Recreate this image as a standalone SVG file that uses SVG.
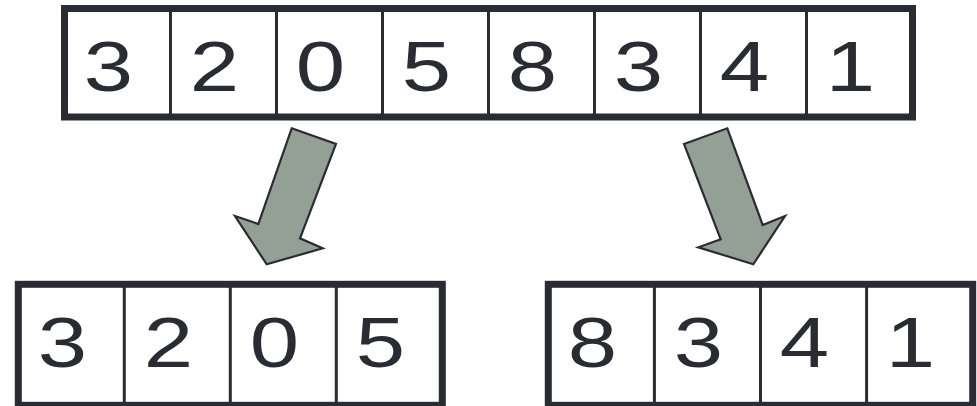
<svg xmlns="http://www.w3.org/2000/svg" width="977" height="406" viewBox="0 0 977 406">
<style>
.frame{fill:#ffffff;stroke:#2b2b33;stroke-width:7}
.div{stroke:#2b2b33;stroke-width:3}
.d{font-family:"Liberation Sans",Arial,sans-serif;font-size:71px;fill:#2b2b33;text-anchor:middle}
.arrow{fill:#93a095;stroke:#2b2b33;stroke-width:2.2;stroke-linejoin:miter}
</style>
<rect width="977" height="406" fill="#ffffff"/>
<g id="top-array">
<rect class="frame" x="64.5" y="8.5" width="848" height="108.5"/>
<g class="div">
<line x1="170.5" y1="8.5" x2="170.5" y2="117"/>
<line x1="276.5" y1="8.5" x2="276.5" y2="117"/>
<line x1="382.5" y1="8.5" x2="382.5" y2="117"/>
<line x1="488.5" y1="8.5" x2="488.5" y2="117"/>
<line x1="594.5" y1="8.5" x2="594.5" y2="117"/>
<line x1="700.5" y1="8.5" x2="700.5" y2="117"/>
<line x1="806.5" y1="8.5" x2="806.5" y2="117"/>
</g>
<text class="d" transform="translate(108.5,91) scale(1.25,1)">3</text>
<text class="d" transform="translate(214.5,91) scale(1.25,1)">2</text>
<text class="d" transform="translate(320.5,91) scale(1.25,1)">0</text>
<text class="d" transform="translate(426.5,91) scale(1.25,1)">5</text>
<text class="d" transform="translate(532.5,91) scale(1.25,1)">8</text>
<text class="d" transform="translate(638.5,91) scale(1.25,1)">3</text>
<text class="d" transform="translate(744.5,91) scale(1.25,1)">4</text>
<text class="d" transform="translate(850.5,91) scale(1.25,1)">1</text>
</g>
<g id="left-array">
<rect class="frame" x="18.3" y="284.3" width="424" height="121"/>
<g class="div">
<line x1="124.3" y1="284.3" x2="124.3" y2="405.3"/>
<line x1="230.3" y1="284.3" x2="230.3" y2="405.3"/>
<line x1="336.3" y1="284.3" x2="336.3" y2="405.3"/>
</g>
<text class="d" transform="translate(62.5,367) scale(1.25,1)">3</text>
<text class="d" transform="translate(168.5,367) scale(1.25,1)">2</text>
<text class="d" transform="translate(274.5,367) scale(1.25,1)">0</text>
<text class="d" transform="translate(380.5,367) scale(1.25,1)">5</text>
</g>
<g id="right-array">
<rect class="frame" x="548.3" y="284.3" width="424.4" height="121"/>
<g class="div">
<line x1="654.4" y1="284.3" x2="654.4" y2="405.3"/>
<line x1="760.5" y1="284.3" x2="760.5" y2="405.3"/>
<line x1="866.6" y1="284.3" x2="866.6" y2="405.3"/>
</g>
<text class="d" transform="translate(592.5,367) scale(1.25,1)">8</text>
<text class="d" transform="translate(698.5,367) scale(1.25,1)">3</text>
<text class="d" transform="translate(804.5,367) scale(1.25,1)">4</text>
<text class="d" transform="translate(910.5,367) scale(1.25,1)">1</text>
</g>
<g id="connectors">
<polygon class="arrow" points="291.7,128.3 336,144 300,238.3 322.7,248.3 266.7,264.3 235,216 258.3,224"/>
<polygon class="arrow" points="684,144 727.3,128.3 762.7,225 785,216 753.3,264.3 698.3,247.3 720.7,239.3"/>
</g>
</svg>
